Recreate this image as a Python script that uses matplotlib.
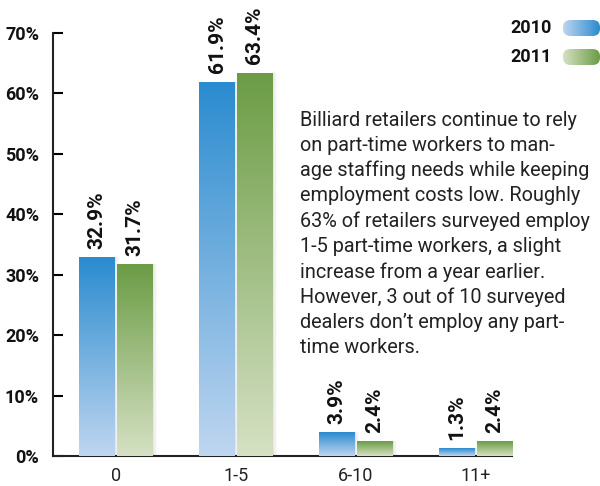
import numpy as np
import matplotlib.pyplot as plt
from matplotlib.colors import LinearSegmentedColormap
from matplotlib.patches import FancyBboxPatch

categories = ["0", "1-5", "6-10", "11+"]
vals_2010 = [32.9, 61.9, 3.9, 1.3]
vals_2011 = [31.7, 63.4, 2.4, 2.4]
years = ["2010", "2011"]
yticks = [0, 10, 20, 30, 40, 50, 60, 70]

blue_cm = LinearSegmentedColormap.from_list("b", ["#bfd6f0", "#2a8bcf"])
green_cm = LinearSegmentedColormap.from_list("g", ["#d6e1c4", "#6b9c45"])

paragraph = [
    "Billiard retailers continue to rely",
    "on part-time workers to man-",
    "age staffing needs while keeping",
    "employment costs low. Roughly",
    "63% of retailers surveyed employ",
    "1-5 part-time workers, a slight",
    "increase from a year earlier.",
    "However, 3 out of 10 surveyed",
    "dealers don\u2019t employ any part-",
    "time workers.",
]

plt.rcParams['font.family'] = ['Roboto', 'DejaVu Sans']

fig = plt.figure(figsize=(6, 4.86), dpi=100)
ax = fig.add_axes([53 / 600, 30 / 486, 459 / 600, 423 / 486])

x = np.arange(len(categories))
w = 0.3
grad = np.linspace(0, 1, 256).reshape(-1, 1)

for off, vals, cm in [(-w / 2 - 0.008, vals_2010, blue_cm), (w / 2 + 0.008, vals_2011, green_cm)]:
    # soft shadow to the right
    for k, a in enumerate([0.10, 0.07, 0.04]):
        ax.bar(x + off + 0.012 * (k + 1), vals, width=w, color="#888888", alpha=a, zorder=1, linewidth=0)
    bars = ax.bar(x + off, vals, width=w, color="none", linewidth=0, zorder=2)
    for b, v in zip(bars, vals):
        im = ax.imshow(grad, cmap=cm, origin="lower", aspect="auto", zorder=3,
                       extent=[b.get_x(), b.get_x() + b.get_width(), 0, v])
        im.set_clip_path(b)
        ax.text(b.get_x() + b.get_width() / 2, v + 1.4, f"{v}%", rotation=90,
                ha="center", va="bottom", fontsize=15, fontweight="bold", color="#111111")

ax.set_xlim(-0.525, 3.3)
ax.set_ylim(0, 70)
ax.set_yticks(yticks)
ax.set_yticklabels([f"{t}%" for t in yticks], fontsize=13, fontweight="bold", color="#111111")
ax.set_xticks(x)
ax.set_xticklabels(categories, fontsize=13, color="#222222")
ax.tick_params(axis="y", direction="in", length=7, width=1.5, pad=10)
ax.tick_params(axis="x", length=0, pad=8)
for s in ["top", "right"]:
    ax.spines[s].set_visible(False)
for s in ["left", "bottom"]:
    ax.spines[s].set_linewidth(1.5)
    ax.spines[s].set_color("#222222")

# legend
for i, (yr, cm) in enumerate(zip(years, [blue_cm, green_cm])):
    yc = 28 + i * 29
    fig.text(552 / 600, 1 - yc / 486, yr, ha="right", va="center", fontsize=13,
             fontweight="bold", color="#111111")
    lax = fig.add_axes([563 / 600, 1 - (yc + 8) / 486, 37 / 600, 16 / 486])
    lax.set_xlim(0, 1)
    lax.set_ylim(0, 1)
    lax.axis("off")
    im = lax.imshow(grad.T, cmap=cm, aspect="auto", extent=[0, 1, 0, 1])
    clip = FancyBboxPatch((0, 0), 1, 1, boxstyle="round,pad=0,rounding_size=0.2",
                          mutation_aspect=2.3, transform=lax.transData, facecolor="none", edgecolor="none")
    lax.add_patch(clip)
    im.set_clip_path(clip)

# paragraph
for i, line in enumerate(paragraph):
    fig.text(300 / 600, 1 - (120 + i * 25.3) / 486, line, ha="left", va="center",
             fontsize=14.3, color="#222222")

fig.savefig("out.png", dpi=100)
